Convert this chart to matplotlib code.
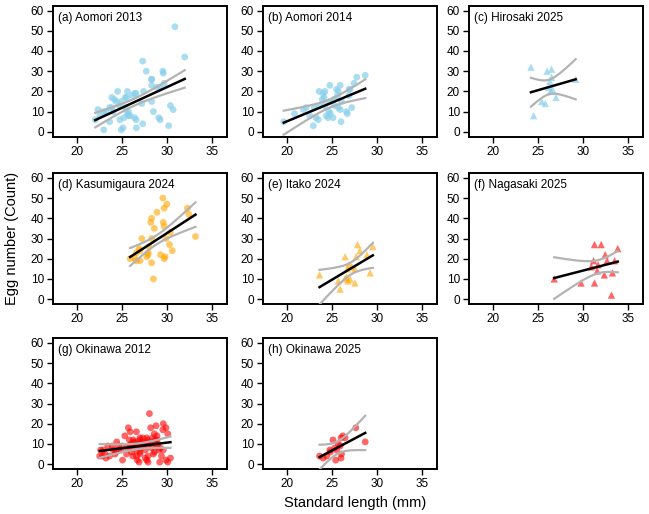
import numpy as np
import matplotlib
matplotlib.use("Agg")
import matplotlib.pyplot as plt

plt.rcParams['font.family'] = ['Liberation Sans', 'DejaVu Sans']

# standard length (mm) and egg number
aomori13_sl = [30.9, 32.0, 27.3, 27.7, 29.55, 29.6, 28.3, 28.3, 29.7, 28.3, 28.9, 29.25, 27.4, 24.5,
               25.6, 26.4, 26.55, 26.1, 25.35, 25.5, 23.85, 24.15, 24.35, 24.9, 28.3, 27.2, 23.6, 23.85,
               24.7, 30.4, 30.7, 22.3, 22.9, 25.35, 25.7, 28.5, 25.7, 25.9, 25.6, 25.2, 24.75, 26.4,
               26.55, 22.0, 29.1, 29.25, 23.6, 22.5, 27.3, 26.6, 25.1, 24.9, 22.95, 30.2, 24.0, 23.2]
aomori13_egg = [52, 37, 35, 30, 30, 29, 26, 26, 24, 23, 22, 22, 20, 20, 20, 19, 19, 18, 17, 17, 17, 16,
                15, 15, 15, 14, 12, 12, 13, 13, 11, 11, 10, 12, 10, 10, 8, 8, 9, 7, 6, 7, 6, 6, 7, 6,
                5, 8, 4, 2, 2, 1, 1, 3, 10, 10]

aomori14_sl = [28.7, 27.75, 27.45, 26.9, 27.0, 25.9, 25.5, 25.7, 24.75, 23.55, 24.0, 24.2, 24.1, 23.9,
               25.2, 25.6, 26.9, 24.75, 26.05, 23.6, 23.0, 22.1, 21.8, 20.8, 19.6, 27.2, 26.6, 26.7,
               25.7, 25.9, 24.65, 24.8, 24.35, 24.55, 25.1, 23.2, 23.45, 22.5, 22.9, 26.0, 24.2, 25.3]
aomori14_egg = [28, 27, 24, 21, 21, 23, 21, 20, 23, 20, 19, 20, 17, 16, 16, 18, 18, 15, 15, 13, 12, 12,
                11, 9, 5, 12, 10, 9, 12, 11, 10, 9, 8, 7, 7, 7, 6, 8, 3, 5, 13, 13]

hirosaki25_sl = [24.2, 26.0, 26.5, 26.5, 26.3, 29.2, 26.2, 26.6, 26.4, 27.0, 25.4, 25.8, 24.5]
hirosaki25_egg = [32, 30, 31, 27, 25, 26, 22, 21, 20, 17, 15, 14, 8]

kasumigaura24_sl = [29.55, 30.0, 29.7, 28.9, 32.3, 32.45, 28.3, 28.2, 29.6, 29.7, 28.6, 33.2, 27.2,
                    28.3, 29.9, 30.4, 30.3, 28.0, 30.6, 26.9, 27.0, 27.9, 29.3, 29.8, 29.7, 27.75,
                    27.9, 25.9, 26.45, 26.6, 27.0, 28.3, 28.5, 26.6]
kasumigaura24_egg = [50, 47, 45, 43, 45, 42, 40, 38, 38, 36, 35, 31, 30, 30, 30, 33, 27, 26, 24, 25,
                     24, 23, 22, 21, 20, 21, 22, 20, 20, 19, 19, 18, 10, 23]

itako24_sl = [27.85, 29.55, 28.1, 26.45, 27.7, 28.9, 26.9, 27.2, 26.7, 27.55, 29.25, 23.6, 26.6, 27.0,
              26.45, 26.8, 25.7, 27.55, 25.9]
itako24_egg = [27, 26, 24, 21, 21, 22, 17, 16, 15, 15, 13, 12, 11, 10, 10, 9, 9, 8, 5]

nagasaki25_sl = [26.8, 29.8, 31.3, 32.05, 32.5, 33.9, 31.2, 31.7, 30.95, 33.55, 32.7, 31.6, 33.3,
                 32.4, 31.3, 33.2]
nagasaki25_egg = [10, 8, 27, 27, 22, 25, 19, 17, 16, 19, 19, 14, 13, 12, 8, 2]

okinawa12_sl = [28.05, 29.6, 28.8, 25.7, 28.2, 29.9, 25.9, 26.6, 29.55, 25.3, 28.6, 28.9, 27.0, 27.75,
                27.9, 30.1, 24.4, 26.25, 26.6, 27.0, 27.3, 28.5, 28.9, 23.4, 23.9, 24.6, 25.9, 26.25,
                26.8, 27.4, 27.9, 28.3, 28.9, 29.25, 22.6, 22.9, 24.0, 24.6, 24.9, 26.05, 26.6, 27.0,
                27.6, 28.6, 29.1, 29.6, 22.5, 23.6, 24.2, 25.5, 26.2, 26.6, 27.0, 27.9, 28.5, 29.4,
                30.4, 25.05, 26.7, 26.9, 27.75, 27.9, 29.2, 30.1, 29.9, 27.6, 23.1, 26.9, 27.2, 27.5,
                26.4, 27.1, 26.3, 28.1, 28.7, 25.6, 25.0, 24.3, 23.2, 22.8, 25.8, 27.8, 28.4, 28.7,
                29.0, 26.0, 27.3]
okinawa12_egg = [25, 20, 19, 18, 18, 18, 16, 16, 17, 14, 15, 14, 13, 13, 12, 15, 11, 12, 11, 12, 11, 11,
                 12, 9, 9, 9, 9, 9, 9, 9, 9, 8, 9, 8, 7, 7, 7, 7, 7, 6, 7, 6, 7, 6, 7, 7, 4, 4, 5, 5,
                 4, 4, 5, 4, 5, 4, 3, 2, 2, 1, 2, 1, 1, 1, 2, 3, 5, 10, 10, 10, 10, 8, 11, 10, 10, 8,
                 9, 6, 3, 4, 12, 11, 13, 12, 10, 10, 13]

okinawa25_sl = [27.65, 28.7, 26.2, 26.45, 26.0, 25.1, 25.7, 25.9, 25.3, 25.5, 24.75, 26.05, 23.6, 24.0,
                24.4, 25.4, 26.0, 24.8]
okinawa25_egg = [18, 11, 14, 13, 13, 12, 10, 9, 8, 7, 7, 5, 4, 3, 4, 2, 3, 6]

panel_titles = ["(a) Aomori 2013", "(b) Aomori 2014", "(c) Hirosaki 2025", "(d) Kasumigaura 2024",
                "(e) Itako 2024", "(f) Nagasaki 2025", "(g) Okinawa 2012", "(h) Okinawa 2025"]
panel_sl = [aomori13_sl, aomori14_sl, hirosaki25_sl, kasumigaura24_sl, itako24_sl, nagasaki25_sl,
            okinawa12_sl, okinawa25_sl]
panel_egg = [aomori13_egg, aomori14_egg, hirosaki25_egg, kasumigaura24_egg, itako24_egg,
             nagasaki25_egg, okinawa12_egg, okinawa25_egg]

BLUE = (0.53, 0.81, 0.92)
ORANGE = (1.0, 0.65, 0.0)
RED = (1.0, 0.0, 0.0)
panel_colors = [BLUE, BLUE, BLUE, ORANGE, ORANGE, RED, RED, RED]
panel_markers = ['o', 'o', '^', 'o', '^', '^', 'o', 'o']
panel_alpha = [0.7, 0.7, 0.7, 0.6, 0.6, 0.6, 0.6, 0.6]


def t975(df: int) -> float:
    # Cornish-Fisher approximation of the 97.5% t quantile
    z = 1.959964
    return (z + (z**3 + z) / (4 * df) + (5 * z**5 + 16 * z**3 + 3 * z) / (96 * df**2)
            + (3 * z**7 + 19 * z**5 + 17 * z**3 - 15 * z) / (384 * df**3))


# one linear model, SL x population, with a pooled residual variance
fits = []
rss = 0.0
n_total = 0
for x, y in zip(panel_sl, panel_egg):
    x = np.asarray(x, float)
    y = np.asarray(y, float)
    slope, intercept = np.polyfit(x, y, 1)
    rss += np.sum((y - (intercept + slope * x))**2)
    n_total += len(x)
    fits.append((x, slope, intercept))
df_resid = n_total - 2 * len(panel_sl)
s_pooled = np.sqrt(rss / df_resid)
t_crit = t975(df_resid)


def band(x, slope, intercept):
    n = len(x)
    sxx = np.sum((x - x.mean())**2)
    xs = np.linspace(x.min(), x.max(), 100)
    fit = intercept + slope * xs
    half = t_crit * s_pooled * np.sqrt(1 / n + (xs - x.mean())**2 / sxx)
    return xs, fit, fit - half, fit + half


fig = plt.figure(figsize=(6.49, 5.14), dpi=100)

col_left = [53 / 649, 263 / 649, 469 / 649]
col_w = 174 / 649
row_bottom = [1 - 136.7 / 514, 1 - 304 / 514, 1 - 469 / 514]
row_h = 131 / 514

for i, title in enumerate(panel_titles):
    row = i // 3
    col = i % 3
    ax = fig.add_axes([col_left[col], row_bottom[row], col_w, row_h])

    size = 28 if panel_markers[i] == '^' else 24
    ax.scatter(panel_sl[i], panel_egg[i], s=size, marker=panel_markers[i], color=panel_colors[i],
               alpha=panel_alpha[i], edgecolors='none', zorder=2)

    xs, fit, lo, hi = band(*fits[i])
    ax.plot(xs, lo, color='#b3b3b3', lw=1.6, zorder=3)
    ax.plot(xs, hi, color='#b3b3b3', lw=1.6, zorder=3)
    ax.plot(xs, fit, color='black', lw=1.8, zorder=4)

    ax.set_xlim(17.28, 36.72)
    ax.set_ylim(-2.4, 62.4)
    ax.set_xticks([20, 25, 30, 35])
    ax.set_yticks(range(0, 61, 10))
    ax.tick_params(labelsize=8.5, length=4.5, width=1.0, pad=2, direction='out')
    for sp in ax.spines.values():
        sp.set_linewidth(1.4)
    ax.text(0.03, 0.955, title, transform=ax.transAxes, ha='left', va='top', fontsize=8.5)

fig.text(0.019, 1 - 238 / 514, "Egg number (Count)", rotation=90, ha='center', va='center',
         fontsize=10.5)
fig.text(355 / 649, 1 - 503 / 514, "Standard length (mm)", ha='center', va='center', fontsize=10.5)

fig.savefig("out.png", dpi=100)
